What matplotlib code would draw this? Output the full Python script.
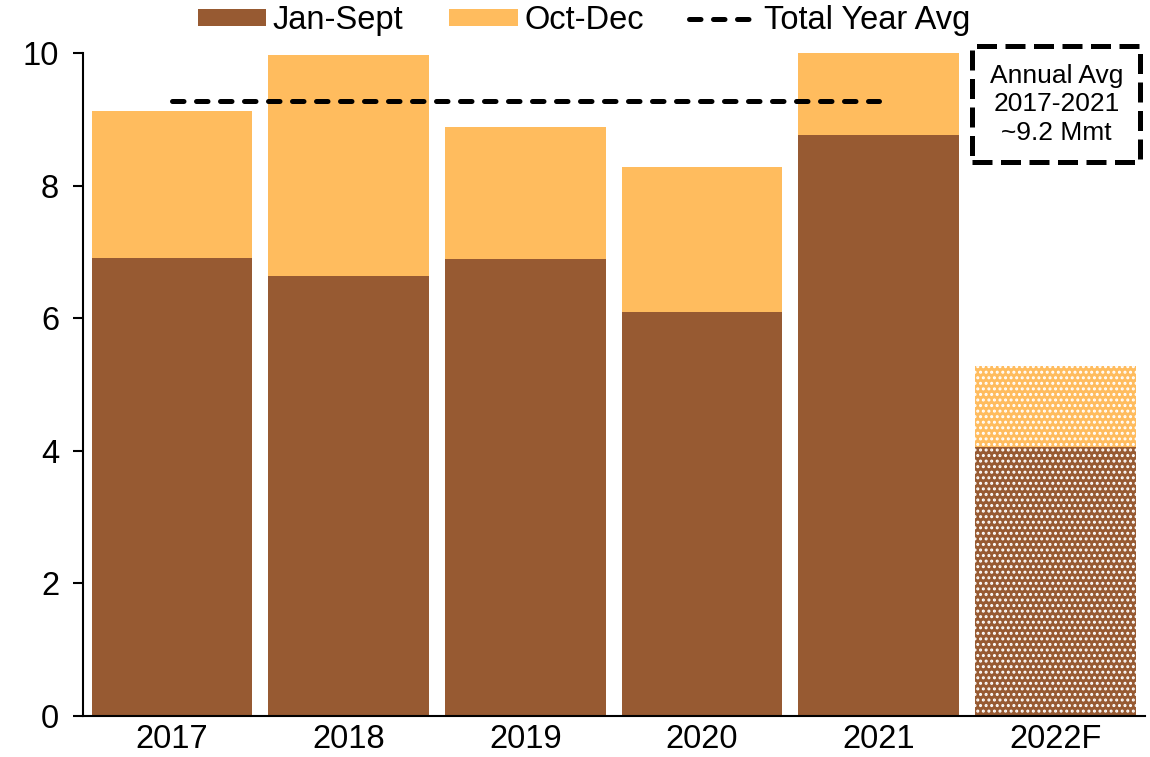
import matplotlib
matplotlib.use('Agg')

import matplotlib.pyplot as plt
import numpy as np

plt.rcParams['font.family'] = ['Liberation Sans', 'DejaVu Sans']
plt.rcParams['hatch.linewidth'] = 1.4

years = ["2017", "2018", "2019", "2020", "2021", "2022F"]
jan_sept = [6.91, 6.64, 6.89, 6.09, 8.76, 4.06]
oct_dec = [2.21, 3.33, 1.99, 2.19, 1.26, 1.22]
avg_value = 9.27

brown = '#975A32'
orange = '#FFBC5E'

fig = plt.figure(figsize=(11.5, 7.57), dpi=100)
ax = fig.add_axes([0.072, 0.054, 0.924, 0.876])

x = np.arange(len(years))
n = len(years) - 1
w = 0.91

ax.bar(x[:n], jan_sept[:n], width=w, color=brown, label="Jan-Sept")
ax.bar(x[:n], oct_dec[:n], width=w, bottom=jan_sept[:n], color=orange, label="Oct-Dec")
# forecast bar, dotted
ax.bar(x[n:], jan_sept[n:], width=w, color=brown, edgecolor='white', linewidth=0, hatch='...')
ax.bar(x[n:], oct_dec[n:], width=w, bottom=jan_sept[n:], color=orange,
       edgecolor='white', linewidth=0, hatch='...')

ax.plot([x[0], x[n - 1]], [avg_value, avg_value], color='black', linestyle=(0, (2.3, 2.5)),
        linewidth=3.6, dash_capstyle='round', label="Total Year Avg")

ax.set_xlim(-0.505, 5.51)
ax.set_ylim(0, 10)
ax.set_yticks([0, 2, 4, 6, 8, 10])
ax.set_xticks(x)
ax.set_xticklabels(years)
ax.tick_params(axis='x', length=0, labelsize=23.5, pad=6)
ax.tick_params(axis='y', length=7, width=1.5, labelsize=23.5, pad=10)
ax.spines['top'].set_visible(False)
ax.spines['right'].set_visible(False)
ax.spines['left'].set_linewidth(1.5)
ax.spines['bottom'].set_linewidth(1.5)

ax.text(0.9185, 0.862, "Annual Avg\n2017-2021\n~9.2 Mmt", transform=fig.transFigure,
        ha='center', va='center', fontsize=19, linespacing=1.24,
        bbox=dict(boxstyle='square,pad=0.66', facecolor='white', edgecolor='black',
                  linestyle=(0, (4, 1.7)), linewidth=3.6))

handles, labels = ax.get_legend_handles_labels()
order = [1, 2, 0]
fig.legend([handles[i] for i in order], [labels[i] for i in order],
           loc='center', bbox_to_anchor=(0.508, 0.973), ncol=3, frameon=False,
           fontsize=23.5, handlelength=2.1, handleheight=0.4, handletextpad=0.2,
           columnspacing=1.4)

plt.savefig("out.png", dpi=100)
